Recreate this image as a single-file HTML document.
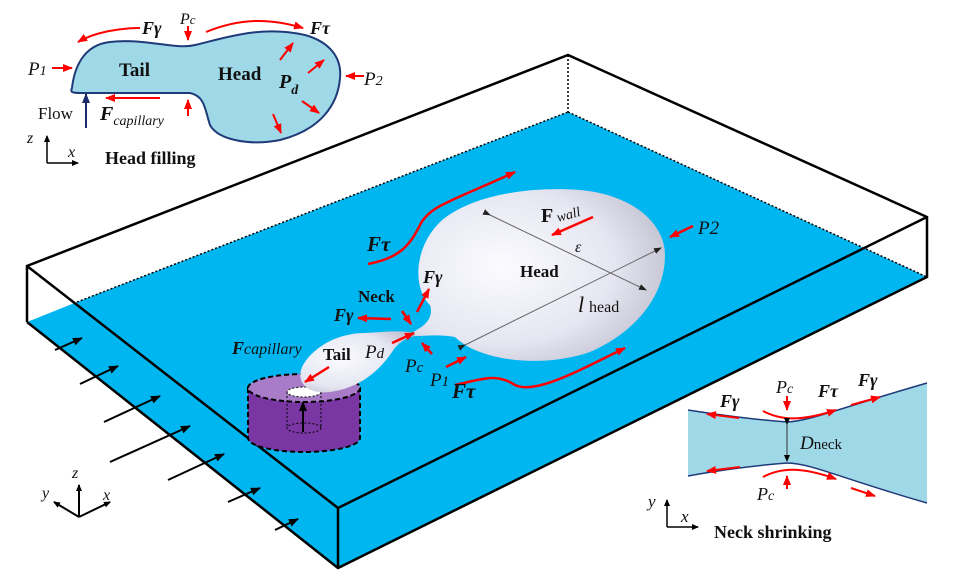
<!DOCTYPE html>
<html><head><meta charset="utf-8"><style>
body{margin:0;background:#fff}
svg{display:block}
text{font-family:"Liberation Serif",serif;fill:#111}
.b{font-weight:bold}
.i{font-style:italic}
</style></head><body>
<svg width="955" height="582" viewBox="0 0 955 582" xmlns="http://www.w3.org/2000/svg">
<defs>
<marker id="ar" markerWidth="10" markerHeight="8" refX="9" refY="4" orient="auto" markerUnits="userSpaceOnUse"><path d="M0,0 L10,4 L0,8 Z" fill="#f00"/></marker>
<marker id="ak" markerWidth="10" markerHeight="8" refX="9" refY="4" orient="auto" markerUnits="userSpaceOnUse"><path d="M0,0 L10,4 L0,8 Z" fill="#000"/></marker>
<marker id="as" markerWidth="7" markerHeight="6" refX="6" refY="3" orient="auto" markerUnits="userSpaceOnUse"><path d="M0,0 L7,3 L0,6 Z" fill="#000"/></marker>
<marker id="ag" markerWidth="8" markerHeight="8" refX="7" refY="4" orient="auto" markerUnits="userSpaceOnUse"><path d="M0,1 L8,4 L0,7 Z" fill="#222"/></marker>
<marker id="an" markerWidth="10" markerHeight="8" refX="9" refY="4" orient="auto" markerUnits="userSpaceOnUse"><path d="M0,0 L10,4 L0,8 Z" fill="#1a2a6a"/></marker>
<radialGradient id="dg" cx="0.35" cy="0.45" r="0.75"><stop offset="0" stop-color="#fbfbff"/><stop offset="0.6" stop-color="#e6e6f2"/><stop offset="1" stop-color="#b8b8c8"/></radialGradient>
</defs>
<!-- water -->
<polygon points="27,322 77,302 568,112 927,277 338,568" fill="#00b6f0"/>
<!-- box edges -->
<g stroke="#000" stroke-width="2.5" fill="none">
<polyline points="27,322 27,266 568,55 927,217 927,277 338,568 27,322"/>
<line x1="27" y1="266" x2="338" y2="508"/>
<line x1="338" y1="508" x2="338" y2="568"/>
<line x1="338" y1="508" x2="927" y2="217"/>
</g>
<g stroke="#000" stroke-width="1.5" stroke-dasharray="2,2" fill="none">
<line x1="77" y1="302" x2="568" y2="112"/>
<line x1="568" y1="55" x2="568" y2="112"/>
<line x1="568" y1="112" x2="927" y2="277"/>
</g>
<!-- flow arrows -->
<g stroke="#000" stroke-width="2" marker-end="url(#ak)">
<line x1="55" y1="350" x2="82" y2="338"/>
<line x1="80" y1="384" x2="118" y2="366"/>
<line x1="104" y1="422" x2="160" y2="396"/>
<line x1="110" y1="462" x2="190" y2="426"/>
<line x1="168" y1="480" x2="224" y2="454"/>
<line x1="228" y1="502" x2="260" y2="488"/>
<line x1="275" y1="530" x2="298" y2="519"/>
</g>
<!-- cylinder -->
<path d="M248,388 L248,438 A56,14 0 0 0 360,438 L360,388 Z" fill="#7a37a3" stroke="#000" stroke-width="2" stroke-dasharray="5,3"/>
<ellipse cx="304" cy="388" rx="56" ry="14" fill="#a87cc8" stroke="#000" stroke-width="2" stroke-dasharray="5,3"/>
<ellipse cx="304" cy="392" rx="17" ry="5" fill="#fff" stroke="#000" stroke-width="1" stroke-dasharray="2,2"/>
<ellipse cx="304" cy="428" rx="17" ry="5" fill="none" stroke="#000" stroke-width="1" stroke-dasharray="2,2"/>
<line x1="287" y1="392" x2="287" y2="428" stroke="#000" stroke-dasharray="2,2"/>
<line x1="321" y1="392" x2="321" y2="428" stroke="#000" stroke-dasharray="2,2"/>
<line x1="303" y1="432" x2="303" y2="402" stroke="#000" stroke-width="2" marker-end="url(#ak)"/>
<!-- droplet -->
<path d="M413,332 C425,326 434,318 430,305 C414,290 412,250 440,222 C470,195 530,186 580,190 C635,195 665,225 665,255 C665,300 630,335 590,352 C545,368 480,362 455,337 C440,334 425,336 413,336 Z" fill="url(#dg)"/>
<path d="M415,333 C400,330 385,332 365,333 C340,333 315,345 303,365 C295,380 305,395 330,392 C360,388 380,370 392,352 C398,343 405,338 415,336 Z" fill="url(#dg)"/>
<g stroke="#666" stroke-width="1">
<line x1="490" y1="215" x2="646" y2="290" marker-end="url(#ag)" marker-start="url(#ag)"/>
<line x1="465" y1="345" x2="661" y2="248" marker-end="url(#ag)" marker-start="url(#ag)"/>
</g>
<!-- red arrows main -->
<g stroke="#f00" stroke-width="2.5" fill="none" marker-end="url(#ar)">
<path d="M368,264 C400,258 410,245 420,225 C430,205 455,200 515,172"/>
<path d="M455,385 C480,380 495,372 515,385 C535,395 580,370 625,348"/>
<line x1="593" y1="217" x2="552" y2="235"/>
<line x1="693" y1="226" x2="670" y2="237"/>
<line x1="391" y1="319" x2="358" y2="318"/>
<line x1="402" y1="311" x2="411" y2="324"/>
<line x1="417" y1="312" x2="429" y2="289"/>
<line x1="392" y1="343" x2="414" y2="333"/>
<line x1="432" y1="354" x2="422" y2="343"/>
<line x1="446" y1="367" x2="466" y2="357"/>
<line x1="329" y1="367" x2="305" y2="382"/>
</g>
<text x="367" y="251" font-size="21" class="b i">Fτ</text>
<text x="452" y="398" font-size="21" class="b i">Fτ</text>
<text x="541" y="222" font-size="20" class="b">F</text><text x="558" y="222" font-size="14" class="i" transform="rotate(-15 558 222)">wall</text>
<text x="575" y="252" font-size="16" class="i">ε</text>
<text x="520" y="277" font-size="17" class="b">Head</text>
<text x="578" y="312" font-size="22" class="i">l</text><text x="589" y="312" font-size="16">head</text>
<text x="698" y="234" font-size="19" class="i">P2</text>
<text x="423" y="283" font-size="18" class="b i">Fγ</text>
<text x="358" y="302" font-size="17" class="b">Neck</text>
<text x="334" y="321" font-size="18" class="b i">Fγ</text>
<text x="232" y="354" font-size="18" class="b i">F<tspan font-size="16" font-weight="normal">capillary</tspan></text>
<text x="323" y="360" font-size="17" class="b">Tail</text>
<text x="365" y="358" font-size="19" class="i">P<tspan font-size="15">d</tspan></text>
<text x="405" y="372" font-size="19" class="i">P<tspan font-size="15">c</tspan></text>
<text x="430" y="386" font-size="19" class="i">P<tspan font-size="15">1</tspan></text>
<!-- 3D axes -->
<g stroke="#000" stroke-width="2" marker-end="url(#as)">
<line x1="79" y1="517" x2="79" y2="485"/>
<line x1="79" y1="517" x2="110" y2="502"/>
<line x1="79" y1="517" x2="54" y2="502"/>
</g>
<text x="72" y="478" font-size="16" class="i">z</text>
<text x="103" y="500" font-size="16" class="i">x</text>
<text x="42" y="498" font-size="16" class="i">y</text>
<!-- head filling inset -->
<path d="M72,88 C74,70 82,45 110,42 C145,38 175,50 195,45 C225,38 260,25 305,35 C330,42 342,58 340,78 C338,105 320,130 280,140 C250,146 218,140 210,125 C205,110 205,96 190,93 L80,93 C72,93 70,92 72,88 Z" fill="#9fd9e8" stroke="#1f3a78" stroke-width="2"/>
<g stroke="#f00" stroke-width="2" fill="none" marker-end="url(#ar)">
<path d="M140,28 C120,28 95,32 78,42"/>
<path d="M206,32 C240,18 270,18 303,28"/>
<line x1="188" y1="26" x2="188" y2="40"/>
<line x1="52" y1="68" x2="72" y2="68"/>
<line x1="160" y1="98" x2="106" y2="98"/>
<line x1="188" y1="116" x2="188" y2="100"/>
<line x1="280" y1="60" x2="293" y2="43"/>
<line x1="308" y1="73" x2="324" y2="60"/>
<line x1="302" y1="101" x2="319" y2="113"/>
<line x1="273" y1="114" x2="281" y2="133"/>
<line x1="364" y1="76" x2="346" y2="76"/>
</g>
<line x1="86" y1="128" x2="86" y2="94" stroke="#1a2a6a" stroke-width="2" marker-end="url(#an)"/>
<text x="142" y="34" font-size="18" class="b i">Fγ</text>
<text x="310" y="34" font-size="18" class="b i">Fτ</text>
<text x="180" y="24" font-size="16" class="i">P<tspan font-size="13">c</tspan></text>
<text x="28" y="75" font-size="19" class="i">P<tspan font-size="14">1</tspan></text>
<text x="364" y="85" font-size="19" class="i">P<tspan font-size="14">2</tspan></text>
<text x="119" y="76" font-size="19" class="b">Tail</text>
<text x="218" y="80" font-size="19" class="b">Head</text>
<text x="279" y="88" font-size="20" class="b i">P<tspan font-size="14" dy="6">d</tspan></text>
<text x="38" y="119" font-size="17">Flow</text>
<text x="100" y="120" font-size="20" class="b i">F<tspan font-size="14" font-weight="normal" dy="5">capillary</tspan></text>
<g stroke="#000" stroke-width="1.5" marker-end="url(#as)">
<line x1="47" y1="163" x2="47" y2="136"/>
<line x1="47" y1="163" x2="78" y2="163"/>
</g>
<text x="27" y="143" font-size="16" class="i">z</text>
<text x="68" y="157" font-size="16" class="i">x</text>
<text x="105" y="164" font-size="18" class="b">Head filling</text>
<!-- neck shrinking inset -->
<path d="M688,410 C720,415 760,420 787,422 C810,421 840,408 927,383 L927,503 C840,478 810,463 787,463 C760,465 720,470 688,476 Z" fill="#9fd9e8"/>
<path d="M688,410 C720,415 760,420 787,422 C810,421 840,408 927,383 M688,476 C720,470 760,465 787,463 C810,463 840,478 927,503" fill="none" stroke="#1f3a78" stroke-width="1.5"/>
<g stroke="#f00" stroke-width="2" fill="none" marker-end="url(#ar)">
<line x1="739" y1="418" x2="707" y2="414"/>
<line x1="740" y1="467" x2="707" y2="471"/>
<path d="M763,411 C780,420 800,422 836,410"/>
<path d="M763,477 C780,468 800,466 836,479"/>
<line x1="851" y1="405" x2="880" y2="397"/>
<line x1="851" y1="488" x2="875" y2="496"/>
<line x1="787" y1="396" x2="787" y2="410"/>
<line x1="787" y1="489" x2="787" y2="476"/>
</g>
<line x1="787" y1="424" x2="787" y2="461" stroke="#333" stroke-width="1" marker-end="url(#as)" marker-start="url(#as)"/>
<text x="720" y="407" font-size="18" class="b i">Fγ</text>
<text x="776" y="393" font-size="18" class="i">P<tspan font-size="14">c</tspan></text>
<text x="818" y="397" font-size="18" class="b i">Fτ</text>
<text x="858" y="386" font-size="18" class="b i">Fγ</text>
<text x="800" y="449" font-size="19" class="i">D<tspan font-size="15" font-style="normal">neck</tspan></text>
<text x="757" y="500" font-size="18" class="i">P<tspan font-size="14">c</tspan></text>
<g stroke="#000" stroke-width="1.5" marker-end="url(#as)">
<line x1="667" y1="527" x2="667" y2="500"/>
<line x1="667" y1="527" x2="698" y2="527"/>
</g>
<text x="648" y="507" font-size="17" class="i">y</text>
<text x="681" y="522" font-size="17" class="i">x</text>
<text x="714" y="538" font-size="18" class="b">Neck shrinking</text>
</svg>
</body></html>
